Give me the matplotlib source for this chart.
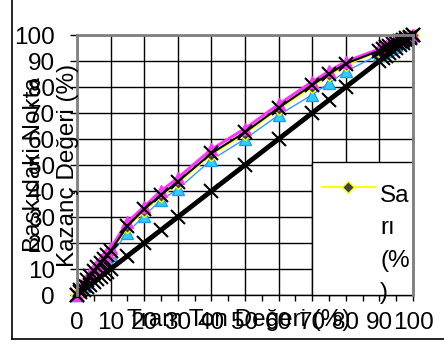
import matplotlib
matplotlib.use("Agg")
import matplotlib.pyplot as plt
from matplotlib.lines import Line2D
from matplotlib.patches import Rectangle

plt.rcParams['font.family'] = ['Liberation Sans', 'DejaVu Sans']

x_vals = [0, 1, 2, 3, 4, 5, 6, 7, 8, 9, 10, 15, 20, 25, 30, 40, 50, 60, 70, 75, 80,
          90, 91, 92, 93, 94, 95, 96, 97, 98, 99, 100]
sari = [0, 1.8, 3.6, 5.4, 7.2, 9, 10.6, 12.2, 13.7, 15.2, 16.7, 26, 32.5, 38, 43, 54, 62, 71.5, 80, 84.5, 88.5,
        93.8, 94.4, 95, 95.6, 96.2, 96.8, 97.4, 98, 98.7, 99.3, 100]
magenta = [0, 2.6, 4.6, 6.6, 8.4, 10.2, 11.8, 13.4, 15, 16.5, 18, 28, 34, 40, 45, 56, 64, 73.3, 82, 86, 89.8,
           94.6, 95.2, 95.8, 96.4, 97, 97.6, 98.1, 98.6, 99.1, 99.6, 100]
cyan = [0, 1.5, 3.3, 5, 6.6, 8.2, 9.7, 11.2, 12.6, 14, 15.4, 24, 30.5, 36.5, 40.7, 52, 60, 69.2, 77, 81.5, 86,
        92.5, 93.2, 93.9, 94.6, 95.3, 96, 96.8, 97.6, 98.4, 99.2, 100]
black_curve = [0, 2, 3.8, 5.6, 7.4, 9.2, 10.8, 12.4, 14, 15.5, 17, 26.5, 33, 38.5, 43.6, 54.5, 62.6, 72, 80.8, 85, 89,
               94, 94.6, 95.2, 95.8, 96.4, 97, 97.6, 98.2, 98.8, 99.4, 100]
reference = list(x_vals)

ticks = [0, 10, 20, 30, 40, 50, 60, 70, 80, 90, 100]
tick_labels = ["0", "10", "20", "30", "40", "50", "60", "70", "80", "90", "100"]
legend_label = "Sa\nrı\n(%\n)"
xlabel = "Tram Ton Değeri (%)"
ylabel = "Baskıdaki Nokta\nKazanç Değeri (%)"

FS = 17.5
W, H = 444, 345
fig = plt.figure(figsize=(W / 100, H / 100), dpi=100)
ax = fig.add_axes([77 / W, 1 - 295 / H, (413 - 77) / W, (295 - 35) / H])

ax.set_xlim(0, 100)
ax.set_ylim(0, 100)

for t in ticks:
    ax.axhline(t, color='black', lw=1.0, zorder=1)
    ax.axvline(t, color='black', lw=1.0, zorder=1)

ax.plot(x_vals, cyan, color='#3399FF', lw=1.0, marker='^', markersize=8,
        markerfacecolor='#33CCFF', markeredgecolor='#1F9FE0', zorder=3, clip_on=False)
ax.plot(x_vals, sari, color='#FFFF00', lw=1.5, marker='D', markersize=6,
        markerfacecolor='#404040', markeredgecolor='#FFFF00', zorder=4, clip_on=False)
ax.plot(x_vals, magenta, color='#FF33FF', lw=2.2, marker='^', markersize=9,
        markerfacecolor='#FF33FF', markeredgecolor='#FF33FF', zorder=5, clip_on=False)
ax.plot(x_vals, black_curve, color='black', lw=1.5, marker='x', markersize=10,
        markeredgewidth=1.5, zorder=6, clip_on=False)
ax.plot(x_vals, reference, color='black', lw=3.5, marker='x', markersize=10,
        markeredgewidth=1.5, zorder=6, clip_on=False)

# legend box
ax.add_patch(Rectangle((70, 0), 30, 51, facecolor='white', edgecolor='black',
                       lw=1.0, zorder=7, clip_on=False))
ax.plot([72.9, 88.7], [41.5, 41.5], color='#FFFF00', lw=1.5, zorder=8, clip_on=False)
ax.plot([80.8], [41.5], marker='D', markersize=6, markerfacecolor='#404040',
        markeredgecolor='#FFFF00', zorder=9, clip_on=False)
ax.text(90.2, 42.4, legend_label, fontsize=FS, va='top', ha='left',
        linespacing=1.62, zorder=9, clip_on=False)

for s in ['top', 'right', 'left']:
    ax.spines[s].set_color('#808080')
    ax.spines[s].set_linewidth(2)
    ax.spines[s].set_zorder(10)
ax.spines['bottom'].set_color('black')
ax.spines['bottom'].set_linewidth(1)

ax.set_xticks(ticks)
ax.set_xticklabels(tick_labels)
ax.set_xticks(list(range(5, 100, 10)), minor=True)
ax.set_yticks(ticks)
ax.set_yticklabels(tick_labels)
ax.tick_params(axis='x', which='both', direction='out', length=4, width=1, pad=8,
               labelsize=FS, color='black')
ax.tick_params(axis='y', which='both', direction='out', length=5, width=1, pad=11,
               labelsize=FS, color='black')

fig.text(239 / W, 1 - 320 / H, xlabel, fontsize=FS, ha='center', va='center')
fig.text(51 / W, 1 - 165 / H, ylabel, fontsize=FS, ha='center', va='center',
         rotation=90, linespacing=1.75, multialignment='center')

fig.add_artist(Line2D([12 / W, 12 / W], [1 - 339 / H, 1.0], color='black', lw=1.2))
fig.add_artist(Line2D([12 / W, 1.0], [1 - 339 / H, 1 - 339 / H], color='black', lw=1.2))

fig.savefig("out.png", dpi=100)
